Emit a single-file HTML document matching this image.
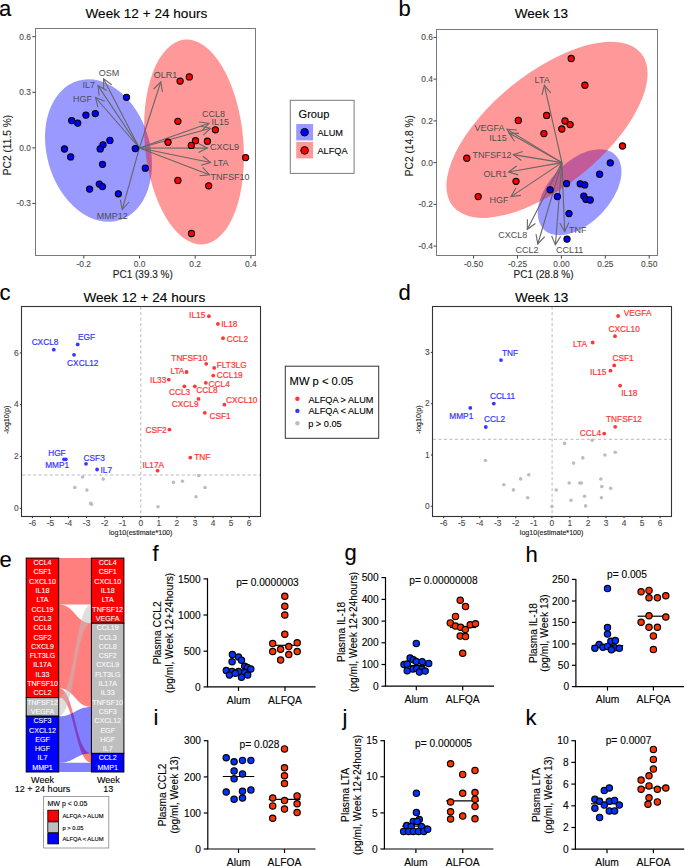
<!DOCTYPE html>
<html><head><meta charset="utf-8"><style>
html,body{margin:0;padding:0;background:#fff;}
svg{display:block;font-family:"Liberation Sans", sans-serif;}
</style></head><body>
<svg width="685" height="866" viewBox="0 0 685 866">
<rect width="685" height="866" fill="#fff"/>
<text x="-1.0" y="15.9" font-size="22" fill="#000" text-anchor="start" stroke="#000" stroke-width="0.12" >a</text>
<text x="146.4" y="18.0" font-size="13.6" fill="#000" text-anchor="middle" stroke="#000" stroke-width="0.12" >Week 12 + 24 hours</text>
<g>
<ellipse cx="98.5" cy="150.6" rx="51.5" ry="72.7" transform="rotate(-16.4 98.5 150.6)" fill="#0000ff" fill-opacity="0.4"/>
<ellipse cx="194" cy="142" rx="49.3" ry="102.8" transform="rotate(-5.2 194 142)" fill="#ff0000" fill-opacity="0.4"/>
</g>
<rect x="35.5" y="28.5" width="220" height="227" fill="none" stroke="#7a7a7a" stroke-width="1"/>
<line x1="32.3" y1="36.7" x2="35.5" y2="36.7" stroke="#444" stroke-width="1" />
<text x="31.0" y="39.7" font-size="8.4" fill="#4d4d4d" text-anchor="end" stroke="#4d4d4d" stroke-width="0.12" >0.6</text>
<line x1="32.3" y1="92.3" x2="35.5" y2="92.3" stroke="#444" stroke-width="1" />
<text x="31.0" y="95.3" font-size="8.4" fill="#4d4d4d" text-anchor="end" stroke="#4d4d4d" stroke-width="0.12" >0.3</text>
<line x1="32.3" y1="147.9" x2="35.5" y2="147.9" stroke="#444" stroke-width="1" />
<text x="31.0" y="150.9" font-size="8.4" fill="#4d4d4d" text-anchor="end" stroke="#4d4d4d" stroke-width="0.12" >0.0</text>
<line x1="32.3" y1="203.4" x2="35.5" y2="203.4" stroke="#444" stroke-width="1" />
<text x="31.0" y="206.4" font-size="8.4" fill="#4d4d4d" text-anchor="end" stroke="#4d4d4d" stroke-width="0.12" >-0.3</text>
<line x1="83.8" y1="255.5" x2="83.8" y2="258.5" stroke="#444" stroke-width="1" />
<text x="83.8" y="267.2" font-size="8.4" fill="#4d4d4d" text-anchor="middle" stroke="#4d4d4d" stroke-width="0.12" >-0.2</text>
<line x1="139.5" y1="255.5" x2="139.5" y2="258.5" stroke="#444" stroke-width="1" />
<text x="139.5" y="267.2" font-size="8.4" fill="#4d4d4d" text-anchor="middle" stroke="#4d4d4d" stroke-width="0.12" >0.0</text>
<line x1="195.2" y1="255.5" x2="195.2" y2="258.5" stroke="#444" stroke-width="1" />
<text x="195.2" y="267.2" font-size="8.4" fill="#4d4d4d" text-anchor="middle" stroke="#4d4d4d" stroke-width="0.12" >0.2</text>
<line x1="250.9" y1="255.5" x2="250.9" y2="258.5" stroke="#444" stroke-width="1" />
<text x="250.9" y="267.2" font-size="8.4" fill="#4d4d4d" text-anchor="middle" stroke="#4d4d4d" stroke-width="0.12" >0.4</text>
<text x="142.8" y="277.5" font-size="10.0" fill="#1a1a1a" text-anchor="middle" stroke="#1a1a1a" stroke-width="0.12" >PC1 (39.3 %)</text>
<text transform="translate(11.3,145.0) rotate(-90)" font-size="10.2" fill="#1a1a1a" text-anchor="middle" stroke="#1a1a1a" stroke-width="0.12" >PC2 (11.5 %)</text>
<line x1="139.4" y1="148.0" x2="103.6" y2="78.9" stroke="#666" stroke-width="1.1" />
<polyline points="111.7,84.7 103.6,78.9 103.7,88.9" fill="none" stroke="#666" stroke-width="1.1"/>
<line x1="139.4" y1="148.0" x2="98.0" y2="85.6" stroke="#666" stroke-width="1.1" />
<polyline points="106.7,90.5 98.0,85.6 99.1,95.5" fill="none" stroke="#666" stroke-width="1.1"/>
<line x1="139.4" y1="148.0" x2="95.5" y2="97.5" stroke="#666" stroke-width="1.1" />
<polyline points="104.8,101.2 95.5,97.5 97.9,107.2" fill="none" stroke="#666" stroke-width="1.1"/>
<line x1="139.4" y1="148.0" x2="160.8" y2="81.9" stroke="#666" stroke-width="1.1" />
<polyline points="162.4,91.8 160.8,81.9 153.7,89.0" fill="none" stroke="#666" stroke-width="1.1"/>
<line x1="139.4" y1="148.0" x2="122.3" y2="209.4" stroke="#666" stroke-width="1.1" />
<polyline points="120.3,199.6 122.3,209.4 129.1,202.0" fill="none" stroke="#666" stroke-width="1.1"/>
<line x1="139.4" y1="148.0" x2="208.9" y2="123.3" stroke="#666" stroke-width="1.1" />
<polyline points="202.0,130.6 208.9,123.3 199.0,122.0" fill="none" stroke="#666" stroke-width="1.1"/>
<line x1="139.4" y1="148.0" x2="210.6" y2="128.3" stroke="#666" stroke-width="1.1" />
<polyline points="203.2,135.1 210.6,128.3 200.8,126.3" fill="none" stroke="#666" stroke-width="1.1"/>
<line x1="139.4" y1="148.0" x2="207.4" y2="148.1" stroke="#666" stroke-width="1.1" />
<polyline points="198.5,152.6 207.4,148.1 198.5,143.5" fill="none" stroke="#666" stroke-width="1.1"/>
<line x1="139.4" y1="148.0" x2="210.6" y2="162.5" stroke="#666" stroke-width="1.1" />
<polyline points="201.0,165.2 210.6,162.5 202.8,156.3" fill="none" stroke="#666" stroke-width="1.1"/>
<line x1="139.4" y1="148.0" x2="209.4" y2="174.7" stroke="#666" stroke-width="1.1" />
<polyline points="199.5,175.8 209.4,174.7 202.7,167.3" fill="none" stroke="#666" stroke-width="1.1"/>
<text x="108.9" y="75.8" font-size="9" fill="#4d4d4d" text-anchor="middle" >OSM</text>
<text x="88.7" y="87.6" font-size="9" fill="#4d4d4d" text-anchor="middle" >IL7</text>
<text x="82.5" y="102.0" font-size="9" fill="#4d4d4d" text-anchor="middle" >HGF</text>
<text x="165.5" y="78.4" font-size="9" fill="#4d4d4d" text-anchor="middle" >OLR1</text>
<text x="112.3" y="219.3" font-size="9" fill="#4d4d4d" text-anchor="middle" >MMP12</text>
<text x="213.5" y="117.1" font-size="9" fill="#4d4d4d" text-anchor="middle" >CCL8</text>
<text x="220.3" y="125.0" font-size="9" fill="#4d4d4d" text-anchor="middle" >IL15</text>
<text x="224.6" y="150.1" font-size="9" fill="#4d4d4d" text-anchor="middle" >CXCL9</text>
<text x="221.0" y="166.2" font-size="9" fill="#4d4d4d" text-anchor="middle" >LTA</text>
<text x="230.1" y="179.8" font-size="9" fill="#4d4d4d" text-anchor="middle" >TNFSF10</text>
<circle cx="126.5" cy="97.3" r="3.1" fill="#0000ff" stroke="#000" stroke-width="1.1"/>
<circle cx="71.7" cy="120.6" r="3.1" fill="#0000ff" stroke="#000" stroke-width="1.1"/>
<circle cx="77.7" cy="123.1" r="3.1" fill="#0000ff" stroke="#000" stroke-width="1.1"/>
<circle cx="85.9" cy="115.1" r="3.1" fill="#0000ff" stroke="#000" stroke-width="1.1"/>
<circle cx="95.3" cy="113.6" r="3.1" fill="#0000ff" stroke="#000" stroke-width="1.1"/>
<circle cx="109.9" cy="140.4" r="3.1" fill="#0000ff" stroke="#000" stroke-width="1.1"/>
<circle cx="103.0" cy="144.8" r="3.1" fill="#0000ff" stroke="#000" stroke-width="1.1"/>
<circle cx="100.2" cy="148.9" r="3.1" fill="#0000ff" stroke="#000" stroke-width="1.1"/>
<circle cx="64.5" cy="149.0" r="3.1" fill="#0000ff" stroke="#000" stroke-width="1.1"/>
<circle cx="70.7" cy="156.9" r="3.1" fill="#0000ff" stroke="#000" stroke-width="1.1"/>
<circle cx="135.3" cy="148.6" r="3.1" fill="#0000ff" stroke="#000" stroke-width="1.1"/>
<circle cx="102.5" cy="164.3" r="3.1" fill="#0000ff" stroke="#000" stroke-width="1.1"/>
<circle cx="145.3" cy="168.2" r="3.1" fill="#0000ff" stroke="#000" stroke-width="1.1"/>
<circle cx="99.3" cy="184.1" r="3.1" fill="#0000ff" stroke="#000" stroke-width="1.1"/>
<circle cx="102.5" cy="186.6" r="3.1" fill="#0000ff" stroke="#000" stroke-width="1.1"/>
<circle cx="89.6" cy="189.1" r="3.1" fill="#0000ff" stroke="#000" stroke-width="1.1"/>
<circle cx="118.4" cy="193.8" r="3.1" fill="#0000ff" stroke="#000" stroke-width="1.1"/>
<circle cx="180.1" cy="81.1" r="3.1" fill="#ff0000" stroke="#000" stroke-width="1.1"/>
<circle cx="189.3" cy="76.9" r="3.1" fill="#ff0000" stroke="#000" stroke-width="1.1"/>
<circle cx="177.9" cy="121.3" r="3.1" fill="#ff0000" stroke="#000" stroke-width="1.1"/>
<circle cx="215.4" cy="129.8" r="3.1" fill="#ff0000" stroke="#000" stroke-width="1.1"/>
<circle cx="168.0" cy="142.2" r="3.1" fill="#ff0000" stroke="#000" stroke-width="1.1"/>
<circle cx="195.5" cy="140.7" r="3.1" fill="#ff0000" stroke="#000" stroke-width="1.1"/>
<circle cx="191.3" cy="145.4" r="3.1" fill="#ff0000" stroke="#000" stroke-width="1.1"/>
<circle cx="207.4" cy="141.2" r="3.1" fill="#ff0000" stroke="#000" stroke-width="1.1"/>
<circle cx="245.6" cy="157.6" r="3.1" fill="#ff0000" stroke="#000" stroke-width="1.1"/>
<circle cx="177.9" cy="180.4" r="3.1" fill="#ff0000" stroke="#000" stroke-width="1.1"/>
<circle cx="208.7" cy="185.8" r="3.1" fill="#ff0000" stroke="#000" stroke-width="1.1"/>
<circle cx="191.5" cy="233.5" r="3.1" fill="#ff0000" stroke="#000" stroke-width="1.1"/>
<rect x="290.3" y="100.3" width="63.8" height="73.1" fill="none" stroke="#7a7a7a" stroke-width="1"/>
<text x="298.5" y="117.8" font-size="11.1" fill="#000" text-anchor="start" stroke="#000" stroke-width="0.1" >Group</text>
<rect x="296.2" y="124" width="16.9" height="16.4" fill="#0000ff" fill-opacity="0.4"/>
<rect x="296.2" y="141.9" width="16.9" height="16.5" fill="#ff0000" fill-opacity="0.4"/>
<circle cx="304.6" cy="132.2" r="3.8" fill="#0000ff" stroke="#000" stroke-width="1"/>
<circle cx="304.6" cy="150.4" r="3.8" fill="#ff0000" stroke="#000" stroke-width="1"/>
<text x="317.4" y="135.6" font-size="9.2" fill="#000" text-anchor="start" stroke="#000" stroke-width="0.1" >ALUM</text>
<text x="317.4" y="153.7" font-size="9.2" fill="#000" text-anchor="start" stroke="#000" stroke-width="0.1" >ALFQA</text>
<text x="398.6" y="15.9" font-size="22" fill="#000" text-anchor="start" stroke="#000" stroke-width="0.12" >b</text>
<text x="541.4" y="18.0" font-size="13.6" fill="#000" text-anchor="middle" stroke="#000" stroke-width="0.12" >Week 13</text>
<ellipse cx="579.6" cy="192.2" rx="51.6" ry="30.6" transform="rotate(-46.5 579.6 192.2)" fill="#0000ff" fill-opacity="0.4"/>
<ellipse cx="547" cy="129.8" rx="121.3" ry="56.3" transform="rotate(-39.1 547 129.8)" fill="#ff0000" fill-opacity="0.4"/>
<rect x="436.5" y="29.5" width="221" height="226" fill="none" stroke="#7a7a7a" stroke-width="1"/>
<line x1="433.5" y1="37.4" x2="436.5" y2="37.4" stroke="#444" stroke-width="1" />
<text x="432.9" y="40.4" font-size="8.4" fill="#4d4d4d" text-anchor="end" stroke="#4d4d4d" stroke-width="0.12" >0.6</text>
<line x1="433.5" y1="79.1" x2="436.5" y2="79.1" stroke="#444" stroke-width="1" />
<text x="432.9" y="82.1" font-size="8.4" fill="#4d4d4d" text-anchor="end" stroke="#4d4d4d" stroke-width="0.12" >0.4</text>
<line x1="433.5" y1="120.9" x2="436.5" y2="120.9" stroke="#444" stroke-width="1" />
<text x="432.9" y="123.9" font-size="8.4" fill="#4d4d4d" text-anchor="end" stroke="#4d4d4d" stroke-width="0.12" >0.2</text>
<line x1="433.5" y1="162.6" x2="436.5" y2="162.6" stroke="#444" stroke-width="1" />
<text x="432.9" y="165.6" font-size="8.4" fill="#4d4d4d" text-anchor="end" stroke="#4d4d4d" stroke-width="0.12" >0.0</text>
<line x1="433.5" y1="204.4" x2="436.5" y2="204.4" stroke="#444" stroke-width="1" />
<text x="432.9" y="207.4" font-size="8.4" fill="#4d4d4d" text-anchor="end" stroke="#4d4d4d" stroke-width="0.12" >-0.2</text>
<line x1="433.5" y1="246.1" x2="436.5" y2="246.1" stroke="#444" stroke-width="1" />
<text x="432.9" y="249.1" font-size="8.4" fill="#4d4d4d" text-anchor="end" stroke="#4d4d4d" stroke-width="0.12" >-0.4</text>
<line x1="473.6" y1="255.5" x2="473.6" y2="258.5" stroke="#444" stroke-width="1" />
<text x="473.6" y="267.2" font-size="8.4" fill="#4d4d4d" text-anchor="middle" stroke="#4d4d4d" stroke-width="0.12" >-0.50</text>
<line x1="517.5" y1="255.5" x2="517.5" y2="258.5" stroke="#444" stroke-width="1" />
<text x="517.5" y="267.2" font-size="8.4" fill="#4d4d4d" text-anchor="middle" stroke="#4d4d4d" stroke-width="0.12" >-0.25</text>
<line x1="561.4" y1="255.5" x2="561.4" y2="258.5" stroke="#444" stroke-width="1" />
<text x="561.4" y="267.2" font-size="8.4" fill="#4d4d4d" text-anchor="middle" stroke="#4d4d4d" stroke-width="0.12" >0.00</text>
<line x1="605.3" y1="255.5" x2="605.3" y2="258.5" stroke="#444" stroke-width="1" />
<text x="605.3" y="267.2" font-size="8.4" fill="#4d4d4d" text-anchor="middle" stroke="#4d4d4d" stroke-width="0.12" >0.25</text>
<line x1="649.2" y1="255.5" x2="649.2" y2="258.5" stroke="#444" stroke-width="1" />
<text x="649.2" y="267.2" font-size="8.4" fill="#4d4d4d" text-anchor="middle" stroke="#4d4d4d" stroke-width="0.12" >0.50</text>
<text x="543.5" y="277.5" font-size="10.0" fill="#1a1a1a" text-anchor="middle" stroke="#1a1a1a" stroke-width="0.12" >PC1 (28.8 %)</text>
<text transform="translate(412.9,145.6) rotate(-90)" font-size="10.2" fill="#1a1a1a" text-anchor="middle" stroke="#1a1a1a" stroke-width="0.12" >PC2 (14.8 %)</text>
<line x1="561.9" y1="162.6" x2="544.4" y2="85.3" stroke="#666" stroke-width="1.1" />
<polyline points="550.8,93.0 544.4,85.3 541.9,95.0" fill="none" stroke="#666" stroke-width="1.1"/>
<line x1="561.9" y1="162.6" x2="507.0" y2="129.2" stroke="#666" stroke-width="1.1" />
<polyline points="517.0,130.0 507.0,129.2 512.3,137.7" fill="none" stroke="#666" stroke-width="1.1"/>
<line x1="561.9" y1="162.6" x2="509.0" y2="133.0" stroke="#666" stroke-width="1.1" />
<polyline points="519.0,133.4 509.0,133.0 514.6,141.3" fill="none" stroke="#666" stroke-width="1.1"/>
<line x1="561.9" y1="162.6" x2="513.3" y2="154.6" stroke="#666" stroke-width="1.1" />
<polyline points="522.8,151.6 513.3,154.6 521.4,160.5" fill="none" stroke="#666" stroke-width="1.1"/>
<line x1="561.9" y1="162.6" x2="508.6" y2="172.0" stroke="#666" stroke-width="1.1" />
<polyline points="516.6,166.0 508.6,172.0 518.2,174.9" fill="none" stroke="#666" stroke-width="1.1"/>
<line x1="561.9" y1="162.6" x2="511.0" y2="196.6" stroke="#666" stroke-width="1.1" />
<polyline points="515.9,187.9 511.0,196.6 520.9,195.4" fill="none" stroke="#666" stroke-width="1.1"/>
<line x1="561.9" y1="162.6" x2="527.3" y2="229.3" stroke="#666" stroke-width="1.1" />
<polyline points="527.4,219.3 527.3,229.3 535.4,223.5" fill="none" stroke="#666" stroke-width="1.1"/>
<line x1="561.9" y1="162.6" x2="537.8" y2="244.0" stroke="#666" stroke-width="1.1" />
<polyline points="536.0,234.2 537.8,244.0 544.7,236.7" fill="none" stroke="#666" stroke-width="1.1"/>
<line x1="561.9" y1="162.6" x2="555.4" y2="244.9" stroke="#666" stroke-width="1.1" />
<polyline points="551.6,235.7 555.4,244.9 560.6,236.4" fill="none" stroke="#666" stroke-width="1.1"/>
<line x1="561.9" y1="162.6" x2="564.7" y2="231.6" stroke="#666" stroke-width="1.1" />
<polyline points="559.8,222.9 564.7,231.6 568.9,222.5" fill="none" stroke="#666" stroke-width="1.1"/>
<text x="542.2" y="82.6" font-size="9" fill="#4d4d4d" text-anchor="middle" >LTA</text>
<text x="489.6" y="130.5" font-size="9" fill="#4d4d4d" text-anchor="middle" >VEGFA</text>
<text x="497.9" y="141.0" font-size="9" fill="#4d4d4d" text-anchor="middle" >IL15</text>
<text x="492.0" y="157.8" font-size="9" fill="#4d4d4d" text-anchor="middle" >TNFSF12</text>
<text x="495.3" y="176.9" font-size="9" fill="#4d4d4d" text-anchor="middle" >OLR1</text>
<text x="499.0" y="203.2" font-size="9" fill="#4d4d4d" text-anchor="middle" >HGF</text>
<text x="512.7" y="238.3" font-size="9" fill="#4d4d4d" text-anchor="middle" >CXCL8</text>
<text x="526.9" y="252.8" font-size="9" fill="#4d4d4d" text-anchor="middle" >CCL2</text>
<text x="569.7" y="252.8" font-size="9" fill="#4d4d4d" text-anchor="middle" >CCL11</text>
<text x="577.8" y="233.2" font-size="9" fill="#4d4d4d" text-anchor="middle" >TNF</text>
<circle cx="610.3" cy="162.8" r="3.1" fill="#0000ff" stroke="#000" stroke-width="1.1"/>
<circle cx="599.6" cy="174.2" r="3.1" fill="#0000ff" stroke="#000" stroke-width="1.1"/>
<circle cx="566.6" cy="183.6" r="3.1" fill="#0000ff" stroke="#000" stroke-width="1.1"/>
<circle cx="580.2" cy="183.8" r="3.1" fill="#0000ff" stroke="#000" stroke-width="1.1"/>
<circle cx="584.7" cy="184.9" r="3.1" fill="#0000ff" stroke="#000" stroke-width="1.1"/>
<circle cx="550.1" cy="189.8" r="3.1" fill="#0000ff" stroke="#000" stroke-width="1.1"/>
<circle cx="557.4" cy="196.6" r="3.1" fill="#0000ff" stroke="#000" stroke-width="1.1"/>
<circle cx="583.8" cy="196.1" r="3.1" fill="#0000ff" stroke="#000" stroke-width="1.1"/>
<circle cx="585.9" cy="199.3" r="3.1" fill="#0000ff" stroke="#000" stroke-width="1.1"/>
<circle cx="590.2" cy="200.0" r="3.1" fill="#0000ff" stroke="#000" stroke-width="1.1"/>
<circle cx="569.0" cy="213.6" r="3.1" fill="#0000ff" stroke="#000" stroke-width="1.1"/>
<circle cx="567.0" cy="239.1" r="3.1" fill="#0000ff" stroke="#000" stroke-width="1.1"/>
<circle cx="571.2" cy="58.5" r="3.1" fill="#ff0000" stroke="#000" stroke-width="1.1"/>
<circle cx="584.9" cy="85.2" r="3.1" fill="#ff0000" stroke="#000" stroke-width="1.1"/>
<circle cx="518.3" cy="120.4" r="3.1" fill="#ff0000" stroke="#000" stroke-width="1.1"/>
<circle cx="546.6" cy="115.4" r="3.1" fill="#ff0000" stroke="#000" stroke-width="1.1"/>
<circle cx="543.9" cy="133.6" r="3.1" fill="#ff0000" stroke="#000" stroke-width="1.1"/>
<circle cx="565.0" cy="121.0" r="3.1" fill="#ff0000" stroke="#000" stroke-width="1.1"/>
<circle cx="570.1" cy="124.6" r="3.1" fill="#ff0000" stroke="#000" stroke-width="1.1"/>
<circle cx="561.8" cy="129.0" r="3.1" fill="#ff0000" stroke="#000" stroke-width="1.1"/>
<circle cx="466.8" cy="158.2" r="3.1" fill="#ff0000" stroke="#000" stroke-width="1.1"/>
<circle cx="516.0" cy="181.3" r="3.1" fill="#ff0000" stroke="#000" stroke-width="1.1"/>
<circle cx="478.2" cy="196.6" r="3.1" fill="#ff0000" stroke="#000" stroke-width="1.1"/>
<circle cx="622.5" cy="146.0" r="3.1" fill="#ff0000" stroke="#000" stroke-width="1.1"/>
<text x="-0.6" y="300.0" font-size="22" fill="#000" text-anchor="start" stroke="#000" stroke-width="0.12" >c</text>
<text x="144.3" y="302.3" font-size="13.6" fill="#000" text-anchor="middle" stroke="#000" stroke-width="0.12" >Week 12 + 24 hours</text>
<line x1="22.2" y1="475.0" x2="260.4" y2="475.0" stroke="#bbbbbb" stroke-width="1" stroke-dasharray="3.1 2.4"/>
<line x1="140.8" y1="306.6" x2="140.8" y2="516.1" stroke="#bbbbbb" stroke-width="1" stroke-dasharray="3.1 2.4"/>
<rect x="21.5" y="306.5" width="239" height="210" fill="none" stroke="#333" stroke-width="1.1"/>
<line x1="19.8" y1="508.3" x2="21.5" y2="508.3" stroke="#333" stroke-width="1" />
<text x="18.6" y="510.9" font-size="8.4" fill="#4d4d4d" text-anchor="end" stroke="#4d4d4d" stroke-width="0.12" >0</text>
<line x1="19.8" y1="456.5" x2="21.5" y2="456.5" stroke="#333" stroke-width="1" />
<text x="18.6" y="459.1" font-size="8.4" fill="#4d4d4d" text-anchor="end" stroke="#4d4d4d" stroke-width="0.12" >2</text>
<line x1="19.8" y1="404.7" x2="21.5" y2="404.7" stroke="#333" stroke-width="1" />
<text x="18.6" y="407.3" font-size="8.4" fill="#4d4d4d" text-anchor="end" stroke="#4d4d4d" stroke-width="0.12" >4</text>
<line x1="19.8" y1="352.9" x2="21.5" y2="352.9" stroke="#333" stroke-width="1" />
<text x="18.6" y="355.5" font-size="8.4" fill="#4d4d4d" text-anchor="end" stroke="#4d4d4d" stroke-width="0.12" >6</text>
<line x1="32.4" y1="516.5" x2="32.4" y2="518.2" stroke="#333" stroke-width="1" />
<text x="32.4" y="526.2" font-size="8.4" fill="#4d4d4d" text-anchor="middle" stroke="#4d4d4d" stroke-width="0.12" >-6</text>
<line x1="50.5" y1="516.5" x2="50.5" y2="518.2" stroke="#333" stroke-width="1" />
<text x="50.5" y="526.2" font-size="8.4" fill="#4d4d4d" text-anchor="middle" stroke="#4d4d4d" stroke-width="0.12" >-5</text>
<line x1="68.5" y1="516.5" x2="68.5" y2="518.2" stroke="#333" stroke-width="1" />
<text x="68.5" y="526.2" font-size="8.4" fill="#4d4d4d" text-anchor="middle" stroke="#4d4d4d" stroke-width="0.12" >-4</text>
<line x1="86.6" y1="516.5" x2="86.6" y2="518.2" stroke="#333" stroke-width="1" />
<text x="86.6" y="526.2" font-size="8.4" fill="#4d4d4d" text-anchor="middle" stroke="#4d4d4d" stroke-width="0.12" >-3</text>
<line x1="104.7" y1="516.5" x2="104.7" y2="518.2" stroke="#333" stroke-width="1" />
<text x="104.7" y="526.2" font-size="8.4" fill="#4d4d4d" text-anchor="middle" stroke="#4d4d4d" stroke-width="0.12" >-2</text>
<line x1="122.7" y1="516.5" x2="122.7" y2="518.2" stroke="#333" stroke-width="1" />
<text x="122.7" y="526.2" font-size="8.4" fill="#4d4d4d" text-anchor="middle" stroke="#4d4d4d" stroke-width="0.12" >-1</text>
<line x1="140.8" y1="516.5" x2="140.8" y2="518.2" stroke="#333" stroke-width="1" />
<text x="140.8" y="526.2" font-size="8.4" fill="#4d4d4d" text-anchor="middle" stroke="#4d4d4d" stroke-width="0.12" >0</text>
<line x1="158.9" y1="516.5" x2="158.9" y2="518.2" stroke="#333" stroke-width="1" />
<text x="158.9" y="526.2" font-size="8.4" fill="#4d4d4d" text-anchor="middle" stroke="#4d4d4d" stroke-width="0.12" >1</text>
<line x1="176.9" y1="516.5" x2="176.9" y2="518.2" stroke="#333" stroke-width="1" />
<text x="176.9" y="526.2" font-size="8.4" fill="#4d4d4d" text-anchor="middle" stroke="#4d4d4d" stroke-width="0.12" >2</text>
<line x1="195.0" y1="516.5" x2="195.0" y2="518.2" stroke="#333" stroke-width="1" />
<text x="195.0" y="526.2" font-size="8.4" fill="#4d4d4d" text-anchor="middle" stroke="#4d4d4d" stroke-width="0.12" >3</text>
<line x1="213.1" y1="516.5" x2="213.1" y2="518.2" stroke="#333" stroke-width="1" />
<text x="213.1" y="526.2" font-size="8.4" fill="#4d4d4d" text-anchor="middle" stroke="#4d4d4d" stroke-width="0.12" >4</text>
<line x1="231.2" y1="516.5" x2="231.2" y2="518.2" stroke="#333" stroke-width="1" />
<text x="231.2" y="526.2" font-size="8.4" fill="#4d4d4d" text-anchor="middle" stroke="#4d4d4d" stroke-width="0.12" >5</text>
<line x1="249.2" y1="516.5" x2="249.2" y2="518.2" stroke="#333" stroke-width="1" />
<text x="249.2" y="526.2" font-size="8.4" fill="#4d4d4d" text-anchor="middle" stroke="#4d4d4d" stroke-width="0.12" >6</text>
<text x="140.7" y="535.3" font-size="7.1" fill="#1a1a1a" text-anchor="middle" stroke="#1a1a1a" stroke-width="0.12" >log10(estimate*100)</text>
<text transform="translate(9.0,419.8) rotate(-90)" font-size="7.1" fill="#1a1a1a" text-anchor="middle" stroke="#1a1a1a" stroke-width="0.12" >-log10(p)</text>
<circle cx="82.6" cy="477.0" r="1.8" fill="#bdbdbd" stroke="none" stroke-width="1"/>
<circle cx="103.2" cy="479.1" r="1.8" fill="#bdbdbd" stroke="none" stroke-width="1"/>
<circle cx="74.8" cy="487.5" r="1.8" fill="#bdbdbd" stroke="none" stroke-width="1"/>
<circle cx="86.9" cy="490.1" r="1.8" fill="#bdbdbd" stroke="none" stroke-width="1"/>
<circle cx="90.7" cy="503.4" r="1.8" fill="#bdbdbd" stroke="none" stroke-width="1"/>
<circle cx="91.4" cy="504.2" r="1.8" fill="#bdbdbd" stroke="none" stroke-width="1"/>
<circle cx="198.7" cy="475.6" r="1.8" fill="#bdbdbd" stroke="none" stroke-width="1"/>
<circle cx="173.5" cy="482.4" r="1.8" fill="#bdbdbd" stroke="none" stroke-width="1"/>
<circle cx="182.5" cy="481.3" r="1.8" fill="#bdbdbd" stroke="none" stroke-width="1"/>
<circle cx="205.0" cy="487.5" r="1.8" fill="#bdbdbd" stroke="none" stroke-width="1"/>
<circle cx="196.0" cy="496.7" r="1.8" fill="#bdbdbd" stroke="none" stroke-width="1"/>
<circle cx="158.0" cy="506.7" r="1.8" fill="#bdbdbd" stroke="none" stroke-width="1"/>
<circle cx="53.8" cy="349.7" r="1.9" fill="#3636ff" stroke="none" stroke-width="1"/>
<text x="45.0" y="344.9" font-size="8.3" fill="#3636ff" text-anchor="middle" stroke="#3636ff" stroke-width="0.2" >CXCL8</text>
<circle cx="77.7" cy="344.4" r="1.9" fill="#3636ff" stroke="none" stroke-width="1"/>
<text x="86.5" y="340.2" font-size="8.3" fill="#3636ff" text-anchor="middle" stroke="#3636ff" stroke-width="0.2" >EGF</text>
<circle cx="74.0" cy="354.8" r="1.9" fill="#3636ff" stroke="none" stroke-width="1"/>
<text x="82.8" y="365.8" font-size="8.3" fill="#3636ff" text-anchor="middle" stroke="#3636ff" stroke-width="0.2" >CXCL12</text>
<circle cx="64.0" cy="459.3" r="1.9" fill="#3636ff" stroke="none" stroke-width="1"/>
<text x="56.9" y="456.1" font-size="8.3" fill="#3636ff" text-anchor="middle" stroke="#3636ff" stroke-width="0.2" >HGF</text>
<circle cx="65.8" cy="459.3" r="1.9" fill="#3636ff" stroke="none" stroke-width="1"/>
<text x="57.2" y="468.4" font-size="8.3" fill="#3636ff" text-anchor="middle" stroke="#3636ff" stroke-width="0.2" >MMP1</text>
<circle cx="86.0" cy="463.8" r="1.9" fill="#3636ff" stroke="none" stroke-width="1"/>
<text x="94.2" y="460.6" font-size="8.3" fill="#3636ff" text-anchor="middle" stroke="#3636ff" stroke-width="0.2" >CSF3</text>
<circle cx="97.1" cy="469.5" r="1.9" fill="#3636ff" stroke="none" stroke-width="1"/>
<text x="106.3" y="472.9" font-size="8.3" fill="#3636ff" text-anchor="middle" stroke="#3636ff" stroke-width="0.2" >IL7</text>
<circle cx="208.9" cy="316.2" r="1.9" fill="#ff3636" stroke="none" stroke-width="1"/>
<text x="197.2" y="318.2" font-size="8.3" fill="#ff3636" text-anchor="middle" stroke="#ff3636" stroke-width="0.2" >IL15</text>
<circle cx="217.9" cy="323.9" r="1.9" fill="#ff3636" stroke="none" stroke-width="1"/>
<text x="229.3" y="326.9" font-size="8.3" fill="#ff3636" text-anchor="middle" stroke="#ff3636" stroke-width="0.2" >IL18</text>
<circle cx="223.0" cy="338.2" r="1.9" fill="#ff3636" stroke="none" stroke-width="1"/>
<text x="237.4" y="341.9" font-size="8.3" fill="#ff3636" text-anchor="middle" stroke="#ff3636" stroke-width="0.2" >CCL2</text>
<circle cx="206.2" cy="363.8" r="1.9" fill="#ff3636" stroke="none" stroke-width="1"/>
<text x="189.3" y="360.7" font-size="8.3" fill="#ff3636" text-anchor="middle" stroke="#ff3636" stroke-width="0.2" >TNFSF10</text>
<circle cx="214.2" cy="367.9" r="1.9" fill="#ff3636" stroke="none" stroke-width="1"/>
<text x="231.7" y="367.8" font-size="8.3" fill="#ff3636" text-anchor="middle" stroke="#ff3636" stroke-width="0.2" >FLT3LG</text>
<circle cx="186.6" cy="372.0" r="1.9" fill="#ff3636" stroke="none" stroke-width="1"/>
<text x="177.4" y="374.4" font-size="8.3" fill="#ff3636" text-anchor="middle" stroke="#ff3636" stroke-width="0.2" >LTA</text>
<circle cx="213.2" cy="375.6" r="1.9" fill="#ff3636" stroke="none" stroke-width="1"/>
<text x="229.7" y="378.0" font-size="8.3" fill="#ff3636" text-anchor="middle" stroke="#ff3636" stroke-width="0.2" >CCL19</text>
<circle cx="168.8" cy="379.7" r="1.9" fill="#ff3636" stroke="none" stroke-width="1"/>
<text x="158.2" y="383.1" font-size="8.3" fill="#ff3636" text-anchor="middle" stroke="#ff3636" stroke-width="0.2" >IL33</text>
<circle cx="205.8" cy="382.8" r="1.9" fill="#ff3636" stroke="none" stroke-width="1"/>
<text x="219.2" y="386.6" font-size="8.3" fill="#ff3636" text-anchor="middle" stroke="#ff3636" stroke-width="0.2" >CCL4</text>
<circle cx="184.4" cy="386.3" r="1.9" fill="#ff3636" stroke="none" stroke-width="1"/>
<text x="179.6" y="394.6" font-size="8.3" fill="#ff3636" text-anchor="middle" stroke="#ff3636" stroke-width="0.2" >CCL3</text>
<circle cx="194.8" cy="386.3" r="1.9" fill="#ff3636" stroke="none" stroke-width="1"/>
<text x="206.9" y="393.4" font-size="8.3" fill="#ff3636" text-anchor="middle" stroke="#ff3636" stroke-width="0.2" >CCL8</text>
<circle cx="198.5" cy="398.9" r="1.9" fill="#ff3636" stroke="none" stroke-width="1"/>
<text x="185.2" y="407.3" font-size="8.3" fill="#ff3636" text-anchor="middle" stroke="#ff3636" stroke-width="0.2" >CXCL9</text>
<circle cx="224.4" cy="404.7" r="1.9" fill="#ff3636" stroke="none" stroke-width="1"/>
<text x="241.8" y="402.6" font-size="8.3" fill="#ff3636" text-anchor="middle" stroke="#ff3636" stroke-width="0.2" >CXCL10</text>
<circle cx="204.8" cy="412.8" r="1.9" fill="#ff3636" stroke="none" stroke-width="1"/>
<text x="220.1" y="418.9" font-size="8.3" fill="#ff3636" text-anchor="middle" stroke="#ff3636" stroke-width="0.2" >CSF1</text>
<circle cx="169.4" cy="429.6" r="1.9" fill="#ff3636" stroke="none" stroke-width="1"/>
<text x="156.1" y="433.0" font-size="8.3" fill="#ff3636" text-anchor="middle" stroke="#ff3636" stroke-width="0.2" >CSF2</text>
<circle cx="190.3" cy="457.6" r="1.9" fill="#ff3636" stroke="none" stroke-width="1"/>
<text x="202.2" y="460.2" font-size="8.3" fill="#ff3636" text-anchor="middle" stroke="#ff3636" stroke-width="0.2" >TNF</text>
<circle cx="157.6" cy="470.7" r="1.9" fill="#ff3636" stroke="none" stroke-width="1"/>
<text x="153.3" y="468.4" font-size="8.3" fill="#ff3636" text-anchor="middle" stroke="#ff3636" stroke-width="0.2" >IL17A</text>
<rect x="285.3" y="366.2" width="93.4" height="72.1" fill="none" stroke="#333" stroke-width="1"/>
<text x="289.6" y="385.4" font-size="11.2" fill="#000" text-anchor="start" stroke="#000" stroke-width="0.12" >MW p &lt; 0.05</text>
<circle cx="297.4" cy="398.7" r="2.2" fill="#ff3636" stroke="none" stroke-width="1"/>
<circle cx="297.4" cy="410.9" r="2.2" fill="#3636ff" stroke="none" stroke-width="1"/>
<circle cx="297.4" cy="423.2" r="2.2" fill="#bdbdbd" stroke="none" stroke-width="1"/>
<text x="308.4" y="402.6" font-size="9.2" fill="#000" text-anchor="start" stroke="#000" stroke-width="0.12" >ALFQA &gt; ALUM</text>
<text x="308.4" y="414.2" font-size="9.2" fill="#000" text-anchor="start" stroke="#000" stroke-width="0.12" >ALFQA &lt; ALUM</text>
<text x="308.2" y="426.5" font-size="9.2" fill="#000" text-anchor="start" stroke="#000" stroke-width="0.12" >p &gt; 0.05</text>
<text x="398.6" y="300.4" font-size="22" fill="#000" text-anchor="start" stroke="#000" stroke-width="0.12" >d</text>
<text x="541.6" y="302.3" font-size="13.6" fill="#000" text-anchor="middle" stroke="#000" stroke-width="0.12" >Week 13</text>
<line x1="432.9" y1="439.3" x2="671.4" y2="439.3" stroke="#bbbbbb" stroke-width="1" stroke-dasharray="3.1 2.4"/>
<line x1="552.1" y1="306.6" x2="552.1" y2="516.1" stroke="#bbbbbb" stroke-width="1" stroke-dasharray="3.1 2.4"/>
<rect x="432.5" y="306.5" width="239" height="210" fill="none" stroke="#333" stroke-width="1.1"/>
<line x1="430.8" y1="506.3" x2="432.5" y2="506.3" stroke="#333" stroke-width="1" />
<text x="429.6" y="508.9" font-size="8.4" fill="#4d4d4d" text-anchor="end" stroke="#4d4d4d" stroke-width="0.12" >0</text>
<line x1="430.8" y1="455.0" x2="432.5" y2="455.0" stroke="#333" stroke-width="1" />
<text x="429.6" y="457.6" font-size="8.4" fill="#4d4d4d" text-anchor="end" stroke="#4d4d4d" stroke-width="0.12" >1</text>
<line x1="430.8" y1="403.7" x2="432.5" y2="403.7" stroke="#333" stroke-width="1" />
<text x="429.6" y="406.3" font-size="8.4" fill="#4d4d4d" text-anchor="end" stroke="#4d4d4d" stroke-width="0.12" >2</text>
<line x1="430.8" y1="352.4" x2="432.5" y2="352.4" stroke="#333" stroke-width="1" />
<text x="429.6" y="355.0" font-size="8.4" fill="#4d4d4d" text-anchor="end" stroke="#4d4d4d" stroke-width="0.12" >3</text>
<line x1="443.7" y1="516.5" x2="443.7" y2="518.2" stroke="#333" stroke-width="1" />
<text x="443.7" y="526.2" font-size="8.4" fill="#4d4d4d" text-anchor="middle" stroke="#4d4d4d" stroke-width="0.12" >-6</text>
<line x1="461.8" y1="516.5" x2="461.8" y2="518.2" stroke="#333" stroke-width="1" />
<text x="461.8" y="526.2" font-size="8.4" fill="#4d4d4d" text-anchor="middle" stroke="#4d4d4d" stroke-width="0.12" >-5</text>
<line x1="479.8" y1="516.5" x2="479.8" y2="518.2" stroke="#333" stroke-width="1" />
<text x="479.8" y="526.2" font-size="8.4" fill="#4d4d4d" text-anchor="middle" stroke="#4d4d4d" stroke-width="0.12" >-4</text>
<line x1="497.8" y1="516.5" x2="497.8" y2="518.2" stroke="#333" stroke-width="1" />
<text x="497.8" y="526.2" font-size="8.4" fill="#4d4d4d" text-anchor="middle" stroke="#4d4d4d" stroke-width="0.12" >-3</text>
<line x1="515.8" y1="516.5" x2="515.8" y2="518.2" stroke="#333" stroke-width="1" />
<text x="515.8" y="526.2" font-size="8.4" fill="#4d4d4d" text-anchor="middle" stroke="#4d4d4d" stroke-width="0.12" >-2</text>
<line x1="533.9" y1="516.5" x2="533.9" y2="518.2" stroke="#333" stroke-width="1" />
<text x="533.9" y="526.2" font-size="8.4" fill="#4d4d4d" text-anchor="middle" stroke="#4d4d4d" stroke-width="0.12" >-1</text>
<line x1="551.9" y1="516.5" x2="551.9" y2="518.2" stroke="#333" stroke-width="1" />
<text x="551.9" y="526.2" font-size="8.4" fill="#4d4d4d" text-anchor="middle" stroke="#4d4d4d" stroke-width="0.12" >0</text>
<line x1="569.9" y1="516.5" x2="569.9" y2="518.2" stroke="#333" stroke-width="1" />
<text x="569.9" y="526.2" font-size="8.4" fill="#4d4d4d" text-anchor="middle" stroke="#4d4d4d" stroke-width="0.12" >1</text>
<line x1="588.0" y1="516.5" x2="588.0" y2="518.2" stroke="#333" stroke-width="1" />
<text x="588.0" y="526.2" font-size="8.4" fill="#4d4d4d" text-anchor="middle" stroke="#4d4d4d" stroke-width="0.12" >2</text>
<line x1="606.0" y1="516.5" x2="606.0" y2="518.2" stroke="#333" stroke-width="1" />
<text x="606.0" y="526.2" font-size="8.4" fill="#4d4d4d" text-anchor="middle" stroke="#4d4d4d" stroke-width="0.12" >3</text>
<line x1="624.0" y1="516.5" x2="624.0" y2="518.2" stroke="#333" stroke-width="1" />
<text x="624.0" y="526.2" font-size="8.4" fill="#4d4d4d" text-anchor="middle" stroke="#4d4d4d" stroke-width="0.12" >4</text>
<line x1="642.0" y1="516.5" x2="642.0" y2="518.2" stroke="#333" stroke-width="1" />
<text x="642.0" y="526.2" font-size="8.4" fill="#4d4d4d" text-anchor="middle" stroke="#4d4d4d" stroke-width="0.12" >5</text>
<line x1="660.1" y1="516.5" x2="660.1" y2="518.2" stroke="#333" stroke-width="1" />
<text x="660.1" y="526.2" font-size="8.4" fill="#4d4d4d" text-anchor="middle" stroke="#4d4d4d" stroke-width="0.12" >6</text>
<text x="551.6" y="535.3" font-size="7.1" fill="#1a1a1a" text-anchor="middle" stroke="#1a1a1a" stroke-width="0.12" >log10(estimate*100)</text>
<text transform="translate(421.3,419.6) rotate(-90)" font-size="7.1" fill="#1a1a1a" text-anchor="middle" stroke="#1a1a1a" stroke-width="0.12" >-log10(p)</text>
<circle cx="485.4" cy="460.5" r="1.8" fill="#bdbdbd" stroke="none" stroke-width="1"/>
<circle cx="528.8" cy="474.8" r="1.8" fill="#bdbdbd" stroke="none" stroke-width="1"/>
<circle cx="520.6" cy="478.9" r="1.8" fill="#bdbdbd" stroke="none" stroke-width="1"/>
<circle cx="503.8" cy="484.8" r="1.8" fill="#bdbdbd" stroke="none" stroke-width="1"/>
<circle cx="513.4" cy="489.9" r="1.8" fill="#bdbdbd" stroke="none" stroke-width="1"/>
<circle cx="527.7" cy="497.7" r="1.8" fill="#bdbdbd" stroke="none" stroke-width="1"/>
<circle cx="592.2" cy="440.2" r="1.8" fill="#bdbdbd" stroke="none" stroke-width="1"/>
<circle cx="564.6" cy="443.4" r="1.8" fill="#bdbdbd" stroke="none" stroke-width="1"/>
<circle cx="615.3" cy="452.3" r="1.8" fill="#bdbdbd" stroke="none" stroke-width="1"/>
<circle cx="604.9" cy="455.0" r="1.8" fill="#bdbdbd" stroke="none" stroke-width="1"/>
<circle cx="582.8" cy="457.9" r="1.8" fill="#bdbdbd" stroke="none" stroke-width="1"/>
<circle cx="573.5" cy="463.1" r="1.8" fill="#bdbdbd" stroke="none" stroke-width="1"/>
<circle cx="600.8" cy="479.0" r="1.8" fill="#bdbdbd" stroke="none" stroke-width="1"/>
<circle cx="569.2" cy="483.0" r="1.8" fill="#bdbdbd" stroke="none" stroke-width="1"/>
<circle cx="579.7" cy="483.0" r="1.8" fill="#bdbdbd" stroke="none" stroke-width="1"/>
<circle cx="581.4" cy="483.0" r="1.8" fill="#bdbdbd" stroke="none" stroke-width="1"/>
<circle cx="601.8" cy="486.6" r="1.8" fill="#bdbdbd" stroke="none" stroke-width="1"/>
<circle cx="610.7" cy="488.2" r="1.8" fill="#bdbdbd" stroke="none" stroke-width="1"/>
<circle cx="556.2" cy="490.0" r="1.8" fill="#bdbdbd" stroke="none" stroke-width="1"/>
<circle cx="584.5" cy="496.2" r="1.8" fill="#bdbdbd" stroke="none" stroke-width="1"/>
<circle cx="601.4" cy="497.7" r="1.8" fill="#bdbdbd" stroke="none" stroke-width="1"/>
<circle cx="571.0" cy="500.3" r="1.8" fill="#bdbdbd" stroke="none" stroke-width="1"/>
<circle cx="585.6" cy="505.9" r="1.8" fill="#bdbdbd" stroke="none" stroke-width="1"/>
<circle cx="552.0" cy="506.5" r="1.8" fill="#bdbdbd" stroke="none" stroke-width="1"/>
<circle cx="501.0" cy="360.1" r="1.9" fill="#3636ff" stroke="none" stroke-width="1"/>
<text x="510.1" y="355.6" font-size="8.3" fill="#3636ff" text-anchor="middle" stroke="#3636ff" stroke-width="0.2" >TNF</text>
<circle cx="493.8" cy="403.6" r="1.9" fill="#3636ff" stroke="none" stroke-width="1"/>
<text x="502.5" y="399.1" font-size="8.3" fill="#3636ff" text-anchor="middle" stroke="#3636ff" stroke-width="0.2" >CCL11</text>
<circle cx="470.3" cy="407.9" r="1.9" fill="#3636ff" stroke="none" stroke-width="1"/>
<text x="461.3" y="418.9" font-size="8.3" fill="#3636ff" text-anchor="middle" stroke="#3636ff" stroke-width="0.2" >MMP1</text>
<circle cx="485.8" cy="427.0" r="1.9" fill="#3636ff" stroke="none" stroke-width="1"/>
<text x="494.6" y="422.4" font-size="8.3" fill="#3636ff" text-anchor="middle" stroke="#3636ff" stroke-width="0.2" >CCL2</text>
<circle cx="618.1" cy="316.0" r="1.9" fill="#ff3636" stroke="none" stroke-width="1"/>
<text x="637.6" y="315.7" font-size="8.3" fill="#ff3636" text-anchor="middle" stroke="#ff3636" stroke-width="0.2" >VEGFA</text>
<circle cx="615.0" cy="336.2" r="1.9" fill="#ff3636" stroke="none" stroke-width="1"/>
<text x="624.1" y="331.6" font-size="8.3" fill="#ff3636" text-anchor="middle" stroke="#ff3636" stroke-width="0.2" >CXCL10</text>
<circle cx="592.7" cy="342.5" r="1.9" fill="#ff3636" stroke="none" stroke-width="1"/>
<text x="580.0" y="346.8" font-size="8.3" fill="#ff3636" text-anchor="middle" stroke="#ff3636" stroke-width="0.2" >LTA</text>
<circle cx="614.2" cy="365.4" r="1.9" fill="#ff3636" stroke="none" stroke-width="1"/>
<text x="623.1" y="360.7" font-size="8.3" fill="#ff3636" text-anchor="middle" stroke="#ff3636" stroke-width="0.2" >CSF1</text>
<circle cx="610.5" cy="370.7" r="1.9" fill="#ff3636" stroke="none" stroke-width="1"/>
<text x="598.2" y="375.0" font-size="8.3" fill="#ff3636" text-anchor="middle" stroke="#ff3636" stroke-width="0.2" >IL15</text>
<circle cx="620.1" cy="385.7" r="1.9" fill="#ff3636" stroke="none" stroke-width="1"/>
<text x="629.3" y="396.4" font-size="8.3" fill="#ff3636" text-anchor="middle" stroke="#ff3636" stroke-width="0.2" >IL18</text>
<circle cx="615.2" cy="426.8" r="1.9" fill="#ff3636" stroke="none" stroke-width="1"/>
<text x="624.0" y="422.4" font-size="8.3" fill="#ff3636" text-anchor="middle" stroke="#ff3636" stroke-width="0.2" >TNFSF12</text>
<circle cx="604.2" cy="433.6" r="1.9" fill="#ff3636" stroke="none" stroke-width="1"/>
<text x="590.4" y="436.1" font-size="8.3" fill="#ff3636" text-anchor="middle" stroke="#ff3636" stroke-width="0.2" >CCL4</text>
<text x="-0.6" y="566.6" font-size="22" fill="#000" text-anchor="start" stroke="#000" stroke-width="0.12" >e</text>
<path d="M58.7,558.10 C75.05,558.10 75.05,558.10 91.4,558.10 L91.4,604.60 C75.05,604.60 75.05,604.60 58.7,604.60 Z" fill="#ff0000" fill-opacity="0.5"/>
<path d="M58.7,604.60 C75.05,604.60 75.05,623.20 91.4,623.20 L91.4,706.90 C75.05,706.90 75.05,688.30 58.7,688.30 Z" fill="#ff0000" fill-opacity="0.5"/>
<path d="M58.7,688.30 C75.05,688.30 75.05,753.40 91.4,753.40 L91.4,762.70 C75.05,762.70 75.05,697.60 58.7,697.60 Z" fill="#ff0000" fill-opacity="0.5"/>
<path d="M58.7,697.60 C75.05,697.60 75.05,604.60 91.4,604.60 L91.4,623.20 C75.05,623.20 75.05,716.20 58.7,716.20 Z" fill="#bebebe" fill-opacity="0.5"/>
<path d="M58.7,716.20 C75.05,716.20 75.05,706.90 91.4,706.90 L91.4,753.40 C75.05,753.40 75.05,762.70 58.7,762.70 Z" fill="#0000ff" fill-opacity="0.5"/>
<path d="M58.7,762.70 C75.05,762.70 75.05,762.70 91.4,762.70 L91.4,772.00 C75.05,772.00 75.05,772.00 58.7,772.00 Z" fill="#0000ff" fill-opacity="0.5"/>
<rect x="26.2" y="558.10" width="32.5" height="139.50" fill="#ff0000" stroke="#000" stroke-width="1"/>
<rect x="26.2" y="697.60" width="32.5" height="18.60" fill="#bebebe" stroke="#000" stroke-width="1"/>
<rect x="26.2" y="716.20" width="32.5" height="55.80" fill="#0000ff" stroke="#000" stroke-width="1"/>
<text x="42.5" y="565.15" font-size="7.1" fill="#fff" stroke="#fff" stroke-width="0.1" text-anchor="middle" opacity="1">CCL4</text>
<text x="42.5" y="574.45" font-size="7.1" fill="#fff" stroke="#fff" stroke-width="0.1" text-anchor="middle" opacity="1">CSF1</text>
<text x="42.5" y="583.75" font-size="7.1" fill="#fff" stroke="#fff" stroke-width="0.1" text-anchor="middle" opacity="1">CXCL10</text>
<text x="42.5" y="593.05" font-size="7.1" fill="#fff" stroke="#fff" stroke-width="0.1" text-anchor="middle" opacity="1">IL18</text>
<text x="42.5" y="602.35" font-size="7.1" fill="#fff" stroke="#fff" stroke-width="0.1" text-anchor="middle" opacity="1">LTA</text>
<text x="42.5" y="611.65" font-size="7.1" fill="#fff" stroke="#fff" stroke-width="0.1" text-anchor="middle" opacity="1">CCL19</text>
<text x="42.5" y="620.95" font-size="7.1" fill="#fff" stroke="#fff" stroke-width="0.1" text-anchor="middle" opacity="1">CCL3</text>
<text x="42.5" y="630.25" font-size="7.1" fill="#fff" stroke="#fff" stroke-width="0.1" text-anchor="middle" opacity="1">CCL8</text>
<text x="42.5" y="639.55" font-size="7.1" fill="#fff" stroke="#fff" stroke-width="0.1" text-anchor="middle" opacity="1">CSF2</text>
<text x="42.5" y="648.85" font-size="7.1" fill="#fff" stroke="#fff" stroke-width="0.1" text-anchor="middle" opacity="1">CXCL9</text>
<text x="42.5" y="658.15" font-size="7.1" fill="#fff" stroke="#fff" stroke-width="0.1" text-anchor="middle" opacity="1">FLT3LG</text>
<text x="42.5" y="667.45" font-size="7.1" fill="#fff" stroke="#fff" stroke-width="0.1" text-anchor="middle" opacity="1">IL17A</text>
<text x="42.5" y="676.75" font-size="7.1" fill="#fff" stroke="#fff" stroke-width="0.1" text-anchor="middle" opacity="1">IL33</text>
<text x="42.5" y="686.05" font-size="7.1" fill="#fff" stroke="#fff" stroke-width="0.1" text-anchor="middle" opacity="1">TNFSF10</text>
<text x="42.5" y="695.35" font-size="7.1" fill="#fff" stroke="#fff" stroke-width="0.1" text-anchor="middle" opacity="1">CCL2</text>
<text x="42.5" y="704.65" font-size="7.1" fill="#fff" stroke="#fff" stroke-width="0.1" text-anchor="middle" opacity="0.92">TNFSF12</text>
<text x="42.5" y="713.95" font-size="7.1" fill="#fff" stroke="#fff" stroke-width="0.1" text-anchor="middle" opacity="0.92">VEGFA</text>
<text x="42.5" y="723.25" font-size="7.1" fill="#fff" stroke="#fff" stroke-width="0.1" text-anchor="middle" opacity="1">CSF3</text>
<text x="42.5" y="732.55" font-size="7.1" fill="#fff" stroke="#fff" stroke-width="0.1" text-anchor="middle" opacity="1">CXCL12</text>
<text x="42.5" y="741.85" font-size="7.1" fill="#fff" stroke="#fff" stroke-width="0.1" text-anchor="middle" opacity="1">EGF</text>
<text x="42.5" y="751.15" font-size="7.1" fill="#fff" stroke="#fff" stroke-width="0.1" text-anchor="middle" opacity="1">HGF</text>
<text x="42.5" y="760.45" font-size="7.1" fill="#fff" stroke="#fff" stroke-width="0.1" text-anchor="middle" opacity="1">IL7</text>
<text x="42.5" y="769.75" font-size="7.1" fill="#fff" stroke="#fff" stroke-width="0.1" text-anchor="middle" opacity="1">MMP1</text>
<rect x="91.4" y="558.10" width="32.5" height="65.10" fill="#ff0000" stroke="#000" stroke-width="1"/>
<rect x="91.4" y="623.20" width="32.5" height="130.20" fill="#bebebe" stroke="#000" stroke-width="1"/>
<rect x="91.4" y="753.40" width="32.5" height="18.60" fill="#0000ff" stroke="#000" stroke-width="1"/>
<text x="107.7" y="565.15" font-size="7.1" fill="#fff" stroke="#fff" stroke-width="0.1" text-anchor="middle" opacity="1">CCL4</text>
<text x="107.7" y="574.45" font-size="7.1" fill="#fff" stroke="#fff" stroke-width="0.1" text-anchor="middle" opacity="1">CSF1</text>
<text x="107.7" y="583.75" font-size="7.1" fill="#fff" stroke="#fff" stroke-width="0.1" text-anchor="middle" opacity="1">CXCL10</text>
<text x="107.7" y="593.05" font-size="7.1" fill="#fff" stroke="#fff" stroke-width="0.1" text-anchor="middle" opacity="1">IL18</text>
<text x="107.7" y="602.35" font-size="7.1" fill="#fff" stroke="#fff" stroke-width="0.1" text-anchor="middle" opacity="1">LTA</text>
<text x="107.7" y="611.65" font-size="7.1" fill="#fff" stroke="#fff" stroke-width="0.1" text-anchor="middle" opacity="1">TNFSF12</text>
<text x="107.7" y="620.95" font-size="7.1" fill="#fff" stroke="#fff" stroke-width="0.1" text-anchor="middle" opacity="1">VEGFA</text>
<text x="107.7" y="630.25" font-size="7.1" fill="#fff" stroke="#fff" stroke-width="0.1" text-anchor="middle" opacity="0.92">CCL19</text>
<text x="107.7" y="639.55" font-size="7.1" fill="#fff" stroke="#fff" stroke-width="0.1" text-anchor="middle" opacity="0.92">CCL3</text>
<text x="107.7" y="648.85" font-size="7.1" fill="#fff" stroke="#fff" stroke-width="0.1" text-anchor="middle" opacity="0.92">CCL8</text>
<text x="107.7" y="658.15" font-size="7.1" fill="#fff" stroke="#fff" stroke-width="0.1" text-anchor="middle" opacity="0.92">CSF2</text>
<text x="107.7" y="667.45" font-size="7.1" fill="#fff" stroke="#fff" stroke-width="0.1" text-anchor="middle" opacity="0.92">CXCL9</text>
<text x="107.7" y="676.75" font-size="7.1" fill="#fff" stroke="#fff" stroke-width="0.1" text-anchor="middle" opacity="0.92">FLT3LG</text>
<text x="107.7" y="686.05" font-size="7.1" fill="#fff" stroke="#fff" stroke-width="0.1" text-anchor="middle" opacity="0.92">IL17A</text>
<text x="107.7" y="695.35" font-size="7.1" fill="#fff" stroke="#fff" stroke-width="0.1" text-anchor="middle" opacity="0.92">IL33</text>
<text x="107.7" y="704.65" font-size="7.1" fill="#fff" stroke="#fff" stroke-width="0.1" text-anchor="middle" opacity="0.92">TNFSF10</text>
<text x="107.7" y="713.95" font-size="7.1" fill="#fff" stroke="#fff" stroke-width="0.1" text-anchor="middle" opacity="0.92">CSF3</text>
<text x="107.7" y="723.25" font-size="7.1" fill="#fff" stroke="#fff" stroke-width="0.1" text-anchor="middle" opacity="0.92">CXCL12</text>
<text x="107.7" y="732.55" font-size="7.1" fill="#fff" stroke="#fff" stroke-width="0.1" text-anchor="middle" opacity="0.92">EGF</text>
<text x="107.7" y="741.85" font-size="7.1" fill="#fff" stroke="#fff" stroke-width="0.1" text-anchor="middle" opacity="0.92">HGF</text>
<text x="107.7" y="751.15" font-size="7.1" fill="#fff" stroke="#fff" stroke-width="0.1" text-anchor="middle" opacity="0.92">IL7</text>
<text x="107.7" y="760.45" font-size="7.1" fill="#fff" stroke="#fff" stroke-width="0.1" text-anchor="middle" opacity="1">CCL2</text>
<text x="107.7" y="769.75" font-size="7.1" fill="#fff" stroke="#fff" stroke-width="0.1" text-anchor="middle" opacity="1">MMP1</text>
<text x="42.5" y="782.6" font-size="9.0" fill="#000" text-anchor="middle" stroke="#000" stroke-width="0.12" >Week</text>
<text x="42.5" y="791.7" font-size="9.0" fill="#000" text-anchor="middle" stroke="#000" stroke-width="0.12" >12 + 24 hours</text>
<text x="108.3" y="782.6" font-size="9.0" fill="#000" text-anchor="middle" stroke="#000" stroke-width="0.12" >Week</text>
<text x="108.3" y="791.7" font-size="9.0" fill="#000" text-anchor="middle" stroke="#000" stroke-width="0.12" >13</text>
<rect x="43.6" y="796.4" width="65.2" height="51.6" fill="#fff" stroke="#888" stroke-width="0.8"/>
<text x="47.5" y="805.6" font-size="7.0" fill="#000" text-anchor="start" stroke="#000" stroke-width="0.12" >MW p &lt; 0.05</text>
<rect x="47.8" y="810.2" width="10.8" height="11" fill="#ff0000" stroke="#000" stroke-width="0.8"/>
<rect x="47.8" y="821.9" width="10.8" height="10.5" fill="#bebebe" stroke="#000" stroke-width="0.8"/>
<rect x="47.8" y="833.4" width="10.8" height="10.5" fill="#0000ff" stroke="#000" stroke-width="0.8"/>
<text x="62.4" y="817.9" font-size="5.8" fill="#000" text-anchor="start" stroke="#000" stroke-width="0.12" >ALFQA &gt; ALUM</text>
<text x="62.4" y="829.7" font-size="5.8" fill="#000" text-anchor="start" stroke="#000" stroke-width="0.12" >p &gt; 0.05</text>
<text x="62.4" y="840.9" font-size="5.8" fill="#000" text-anchor="start" stroke="#000" stroke-width="0.12" >ALFQA &lt; ALUM</text>
<text x="152.5" y="561.0" font-size="22" fill="#000" text-anchor="start" stroke="#000" stroke-width="0.12" >f</text>
<line x1="207.5" y1="578.3" x2="207.5" y2="686.9" stroke="#000" stroke-width="1.2" />
<line x1="206.9" y1="686.9" x2="315.6" y2="686.9" stroke="#000" stroke-width="1.2" />
<line x1="203.5" y1="578.9" x2="207.5" y2="578.9" stroke="#000" stroke-width="1.2" />
<text x="200.7" y="582.5" font-size="10.2" fill="#000" text-anchor="end" stroke="#000" stroke-width="0.12" >1500</text>
<line x1="203.5" y1="615.0" x2="207.5" y2="615.0" stroke="#000" stroke-width="1.2" />
<text x="200.7" y="618.6" font-size="10.2" fill="#000" text-anchor="end" stroke="#000" stroke-width="0.12" >1000</text>
<line x1="203.5" y1="651.2" x2="207.5" y2="651.2" stroke="#000" stroke-width="1.2" />
<text x="200.7" y="654.8" font-size="10.2" fill="#000" text-anchor="end" stroke="#000" stroke-width="0.12" >500</text>
<line x1="203.5" y1="686.9" x2="207.5" y2="686.9" stroke="#000" stroke-width="1.2" />
<text x="200.7" y="690.5" font-size="10.2" fill="#000" text-anchor="end" stroke="#000" stroke-width="0.12" >0</text>
<line x1="238.5" y1="686.9" x2="238.5" y2="690.9" stroke="#000" stroke-width="1.2" />
<line x1="285.0" y1="686.9" x2="285.0" y2="690.9" stroke="#000" stroke-width="1.2" />
<text x="238.5" y="703.6" font-size="10.3" fill="#000" text-anchor="middle" stroke="#000" stroke-width="0.12" >Alum</text>
<text x="285.0" y="703.6" font-size="10.3" fill="#000" text-anchor="middle" stroke="#000" stroke-width="0.12" >ALFQA</text>
<text x="267.5" y="585.6" font-size="10.2" fill="#000" text-anchor="middle" stroke="#000" stroke-width="0.12" >p= 0.0000003</text>
<text transform="translate(161.2,632.8) rotate(-90)" font-size="10.2" fill="#000" text-anchor="middle" stroke="#000" stroke-width="0.12" >Plasma CCL2</text>
<text transform="translate(173.4,632.8) rotate(-90)" font-size="10.2" fill="#000" text-anchor="middle" stroke="#000" stroke-width="0.12" >(pg/ml, Week 12+24hours)</text>
<line x1="270.0" y1="645.3" x2="300.0" y2="645.3" stroke="#000" stroke-width="1.2" />
<circle cx="232.4" cy="654.5" r="3.15" fill="#0033ff" stroke="#000" stroke-width="1.15"/>
<circle cx="238.5" cy="657.1" r="3.15" fill="#0033ff" stroke="#000" stroke-width="1.15"/>
<circle cx="232.1" cy="661.8" r="3.15" fill="#0033ff" stroke="#000" stroke-width="1.15"/>
<circle cx="241.5" cy="660.2" r="3.15" fill="#0033ff" stroke="#000" stroke-width="1.15"/>
<circle cx="244.7" cy="666.2" r="3.15" fill="#0033ff" stroke="#000" stroke-width="1.15"/>
<circle cx="247.3" cy="667.6" r="3.15" fill="#0033ff" stroke="#000" stroke-width="1.15"/>
<circle cx="250.8" cy="669.0" r="3.15" fill="#0033ff" stroke="#000" stroke-width="1.15"/>
<circle cx="226.3" cy="670.6" r="3.15" fill="#0033ff" stroke="#000" stroke-width="1.15"/>
<circle cx="232.1" cy="671.5" r="3.15" fill="#0033ff" stroke="#000" stroke-width="1.15"/>
<circle cx="238.5" cy="671.5" r="3.15" fill="#0033ff" stroke="#000" stroke-width="1.15"/>
<circle cx="244.7" cy="672.5" r="3.15" fill="#0033ff" stroke="#000" stroke-width="1.15"/>
<circle cx="229.4" cy="675.0" r="3.15" fill="#0033ff" stroke="#000" stroke-width="1.15"/>
<circle cx="235.4" cy="673.2" r="3.15" fill="#0033ff" stroke="#000" stroke-width="1.15"/>
<circle cx="247.7" cy="675.0" r="3.15" fill="#0033ff" stroke="#000" stroke-width="1.15"/>
<circle cx="241.5" cy="677.2" r="3.15" fill="#0033ff" stroke="#000" stroke-width="1.15"/>
<circle cx="284.8" cy="596.3" r="3.15" fill="#ff3300" stroke="#000" stroke-width="1.15"/>
<circle cx="284.8" cy="606.3" r="3.15" fill="#ff3300" stroke="#000" stroke-width="1.15"/>
<circle cx="284.8" cy="615.0" r="3.15" fill="#ff3300" stroke="#000" stroke-width="1.15"/>
<circle cx="284.8" cy="634.3" r="3.15" fill="#ff3300" stroke="#000" stroke-width="1.15"/>
<circle cx="272.7" cy="643.6" r="3.15" fill="#ff3300" stroke="#000" stroke-width="1.15"/>
<circle cx="297.2" cy="642.7" r="3.15" fill="#ff3300" stroke="#000" stroke-width="1.15"/>
<circle cx="280.6" cy="649.2" r="3.15" fill="#ff3300" stroke="#000" stroke-width="1.15"/>
<circle cx="288.8" cy="646.6" r="3.15" fill="#ff3300" stroke="#000" stroke-width="1.15"/>
<circle cx="272.7" cy="651.5" r="3.15" fill="#ff3300" stroke="#000" stroke-width="1.15"/>
<circle cx="297.2" cy="651.5" r="3.15" fill="#ff3300" stroke="#000" stroke-width="1.15"/>
<circle cx="288.8" cy="654.5" r="3.15" fill="#ff3300" stroke="#000" stroke-width="1.15"/>
<circle cx="280.6" cy="660.1" r="3.15" fill="#ff3300" stroke="#000" stroke-width="1.15"/>
<text x="344.5" y="560.0" font-size="22" fill="#000" text-anchor="start" stroke="#000" stroke-width="0.12" >g</text>
<line x1="385.5" y1="577.1" x2="385.5" y2="686.2" stroke="#000" stroke-width="1.2" />
<line x1="384.9" y1="686.2" x2="494.0" y2="686.2" stroke="#000" stroke-width="1.2" />
<line x1="381.5" y1="577.6" x2="385.5" y2="577.6" stroke="#000" stroke-width="1.2" />
<text x="378.7" y="581.2" font-size="10.2" fill="#000" text-anchor="end" stroke="#000" stroke-width="0.12" >500</text>
<line x1="381.5" y1="599.4" x2="385.5" y2="599.4" stroke="#000" stroke-width="1.2" />
<text x="378.7" y="603.0" font-size="10.2" fill="#000" text-anchor="end" stroke="#000" stroke-width="0.12" >400</text>
<line x1="381.5" y1="621.1" x2="385.5" y2="621.1" stroke="#000" stroke-width="1.2" />
<text x="378.7" y="624.7" font-size="10.2" fill="#000" text-anchor="end" stroke="#000" stroke-width="0.12" >300</text>
<line x1="381.5" y1="642.8" x2="385.5" y2="642.8" stroke="#000" stroke-width="1.2" />
<text x="378.7" y="646.4" font-size="10.2" fill="#000" text-anchor="end" stroke="#000" stroke-width="0.12" >200</text>
<line x1="381.5" y1="664.5" x2="385.5" y2="664.5" stroke="#000" stroke-width="1.2" />
<text x="378.7" y="668.1" font-size="10.2" fill="#000" text-anchor="end" stroke="#000" stroke-width="0.12" >100</text>
<line x1="381.5" y1="686.2" x2="385.5" y2="686.2" stroke="#000" stroke-width="1.2" />
<text x="378.7" y="689.8" font-size="10.2" fill="#000" text-anchor="end" stroke="#000" stroke-width="0.12" >0</text>
<line x1="416.3" y1="686.2" x2="416.3" y2="690.2" stroke="#000" stroke-width="1.2" />
<line x1="462.7" y1="686.2" x2="462.7" y2="690.2" stroke="#000" stroke-width="1.2" />
<text x="416.3" y="702.9" font-size="10.3" fill="#000" text-anchor="middle" stroke="#000" stroke-width="0.12" >Alum</text>
<text x="462.7" y="702.9" font-size="10.3" fill="#000" text-anchor="middle" stroke="#000" stroke-width="0.12" >ALFQA</text>
<text x="443.5" y="584.3" font-size="10.2" fill="#000" text-anchor="middle" stroke="#000" stroke-width="0.12" >p= 0.00000008</text>
<text transform="translate(345.0,631.9) rotate(-90)" font-size="10.2" fill="#000" text-anchor="middle" stroke="#000" stroke-width="0.12" >Plasma IL-18</text>
<text transform="translate(356.8,631.9) rotate(-90)" font-size="10.2" fill="#000" text-anchor="middle" stroke="#000" stroke-width="0.12" >(pg/ml, Week 12+24hours)</text>
<line x1="401.0" y1="665.5" x2="428.0" y2="665.5" stroke="#000" stroke-width="1.2" />
<line x1="450.0" y1="627.5" x2="476.0" y2="627.5" stroke="#000" stroke-width="1.2" />
<circle cx="416.3" cy="643.4" r="3.15" fill="#0033ff" stroke="#000" stroke-width="1.15"/>
<circle cx="410.1" cy="658.0" r="3.15" fill="#0033ff" stroke="#000" stroke-width="1.15"/>
<circle cx="413.3" cy="659.7" r="3.15" fill="#0033ff" stroke="#000" stroke-width="1.15"/>
<circle cx="416.3" cy="661.5" r="3.15" fill="#0033ff" stroke="#000" stroke-width="1.15"/>
<circle cx="422.2" cy="661.8" r="3.15" fill="#0033ff" stroke="#000" stroke-width="1.15"/>
<circle cx="428.7" cy="663.4" r="3.15" fill="#0033ff" stroke="#000" stroke-width="1.15"/>
<circle cx="404.0" cy="664.4" r="3.15" fill="#0033ff" stroke="#000" stroke-width="1.15"/>
<circle cx="407.2" cy="664.1" r="3.15" fill="#0033ff" stroke="#000" stroke-width="1.15"/>
<circle cx="412.9" cy="669.0" r="3.15" fill="#0033ff" stroke="#000" stroke-width="1.15"/>
<circle cx="416.8" cy="668.5" r="3.15" fill="#0033ff" stroke="#000" stroke-width="1.15"/>
<circle cx="422.0" cy="669.0" r="3.15" fill="#0033ff" stroke="#000" stroke-width="1.15"/>
<circle cx="407.2" cy="670.8" r="3.15" fill="#0033ff" stroke="#000" stroke-width="1.15"/>
<circle cx="419.4" cy="672.0" r="3.15" fill="#0033ff" stroke="#000" stroke-width="1.15"/>
<circle cx="425.2" cy="671.1" r="3.15" fill="#0033ff" stroke="#000" stroke-width="1.15"/>
<circle cx="460.2" cy="600.3" r="3.15" fill="#ff3300" stroke="#000" stroke-width="1.15"/>
<circle cx="465.5" cy="606.5" r="3.15" fill="#ff3300" stroke="#000" stroke-width="1.15"/>
<circle cx="455.5" cy="616.4" r="3.15" fill="#ff3300" stroke="#000" stroke-width="1.15"/>
<circle cx="450.3" cy="622.9" r="3.15" fill="#ff3300" stroke="#000" stroke-width="1.15"/>
<circle cx="455.5" cy="626.1" r="3.15" fill="#ff3300" stroke="#000" stroke-width="1.15"/>
<circle cx="460.6" cy="627.3" r="3.15" fill="#ff3300" stroke="#000" stroke-width="1.15"/>
<circle cx="465.3" cy="629.6" r="3.15" fill="#ff3300" stroke="#000" stroke-width="1.15"/>
<circle cx="470.2" cy="624.7" r="3.15" fill="#ff3300" stroke="#000" stroke-width="1.15"/>
<circle cx="475.5" cy="623.8" r="3.15" fill="#ff3300" stroke="#000" stroke-width="1.15"/>
<circle cx="460.2" cy="636.1" r="3.15" fill="#ff3300" stroke="#000" stroke-width="1.15"/>
<circle cx="465.5" cy="636.6" r="3.15" fill="#ff3300" stroke="#000" stroke-width="1.15"/>
<circle cx="462.7" cy="653.2" r="3.15" fill="#ff3300" stroke="#000" stroke-width="1.15"/>
<text x="525.5" y="562.3" font-size="22" fill="#000" text-anchor="start" stroke="#000" stroke-width="0.12" >h</text>
<line x1="575.9" y1="578.9" x2="575.9" y2="686.6" stroke="#000" stroke-width="1.2" />
<line x1="575.3" y1="686.6" x2="684.0" y2="686.6" stroke="#000" stroke-width="1.2" />
<line x1="571.9" y1="579.4" x2="575.9" y2="579.4" stroke="#000" stroke-width="1.2" />
<text x="569.1" y="583.0" font-size="10.2" fill="#000" text-anchor="end" stroke="#000" stroke-width="0.12" >250</text>
<line x1="571.9" y1="601.0" x2="575.9" y2="601.0" stroke="#000" stroke-width="1.2" />
<text x="569.1" y="604.6" font-size="10.2" fill="#000" text-anchor="end" stroke="#000" stroke-width="0.12" >200</text>
<line x1="571.9" y1="622.4" x2="575.9" y2="622.4" stroke="#000" stroke-width="1.2" />
<text x="569.1" y="626.0" font-size="10.2" fill="#000" text-anchor="end" stroke="#000" stroke-width="0.12" >150</text>
<line x1="571.9" y1="643.9" x2="575.9" y2="643.9" stroke="#000" stroke-width="1.2" />
<text x="569.1" y="647.5" font-size="10.2" fill="#000" text-anchor="end" stroke="#000" stroke-width="0.12" >100</text>
<line x1="571.9" y1="665.3" x2="575.9" y2="665.3" stroke="#000" stroke-width="1.2" />
<text x="569.1" y="668.9" font-size="10.2" fill="#000" text-anchor="end" stroke="#000" stroke-width="0.12" >50</text>
<line x1="571.9" y1="686.6" x2="575.9" y2="686.6" stroke="#000" stroke-width="1.2" />
<text x="569.1" y="690.2" font-size="10.2" fill="#000" text-anchor="end" stroke="#000" stroke-width="0.12" >0</text>
<line x1="607.5" y1="686.6" x2="607.5" y2="690.6" stroke="#000" stroke-width="1.2" />
<line x1="653.4" y1="686.6" x2="653.4" y2="690.6" stroke="#000" stroke-width="1.2" />
<text x="607.5" y="703.3" font-size="10.3" fill="#000" text-anchor="middle" stroke="#000" stroke-width="0.12" >Alum</text>
<text x="653.4" y="703.3" font-size="10.3" fill="#000" text-anchor="middle" stroke="#000" stroke-width="0.12" >ALFQA</text>
<text x="627.0" y="578.4" font-size="10.2" fill="#000" text-anchor="middle" stroke="#000" stroke-width="0.12" >p= 0.005</text>
<text transform="translate(536.5,633.0) rotate(-90)" font-size="10.2" fill="#000" text-anchor="middle" stroke="#000" stroke-width="0.12" >Plasma IL-18</text>
<text transform="translate(548.2,633.0) rotate(-90)" font-size="10.2" fill="#000" text-anchor="middle" stroke="#000" stroke-width="0.12" >(pg/ml, Week 13)</text>
<line x1="591.7" y1="645.6" x2="623.2" y2="645.6" stroke="#000" stroke-width="1.2" />
<line x1="637.7" y1="616.2" x2="667.9" y2="616.2" stroke="#000" stroke-width="1.2" />
<circle cx="607.5" cy="588.6" r="3.15" fill="#0033ff" stroke="#000" stroke-width="1.15"/>
<circle cx="607.5" cy="627.5" r="3.15" fill="#0033ff" stroke="#000" stroke-width="1.15"/>
<circle cx="607.5" cy="634.1" r="3.15" fill="#0033ff" stroke="#000" stroke-width="1.15"/>
<circle cx="610.9" cy="641.2" r="3.15" fill="#0033ff" stroke="#000" stroke-width="1.15"/>
<circle cx="615.4" cy="640.6" r="3.15" fill="#0033ff" stroke="#000" stroke-width="1.15"/>
<circle cx="599.1" cy="644.6" r="3.15" fill="#0033ff" stroke="#000" stroke-width="1.15"/>
<circle cx="594.9" cy="648.2" r="3.15" fill="#0033ff" stroke="#000" stroke-width="1.15"/>
<circle cx="603.0" cy="647.2" r="3.15" fill="#0033ff" stroke="#000" stroke-width="1.15"/>
<circle cx="607.5" cy="646.4" r="3.15" fill="#0033ff" stroke="#000" stroke-width="1.15"/>
<circle cx="614.8" cy="647.7" r="3.15" fill="#0033ff" stroke="#000" stroke-width="1.15"/>
<circle cx="619.3" cy="648.2" r="3.15" fill="#0033ff" stroke="#000" stroke-width="1.15"/>
<circle cx="611.4" cy="649.8" r="3.15" fill="#0033ff" stroke="#000" stroke-width="1.15"/>
<circle cx="641.1" cy="591.8" r="3.15" fill="#ff3300" stroke="#000" stroke-width="1.15"/>
<circle cx="649.0" cy="590.4" r="3.15" fill="#ff3300" stroke="#000" stroke-width="1.15"/>
<circle cx="649.0" cy="597.8" r="3.15" fill="#ff3300" stroke="#000" stroke-width="1.15"/>
<circle cx="657.4" cy="597.8" r="3.15" fill="#ff3300" stroke="#000" stroke-width="1.15"/>
<circle cx="665.8" cy="595.7" r="3.15" fill="#ff3300" stroke="#000" stroke-width="1.15"/>
<circle cx="649.0" cy="615.7" r="3.15" fill="#ff3300" stroke="#000" stroke-width="1.15"/>
<circle cx="665.8" cy="617.0" r="3.15" fill="#ff3300" stroke="#000" stroke-width="1.15"/>
<circle cx="641.1" cy="622.2" r="3.15" fill="#ff3300" stroke="#000" stroke-width="1.15"/>
<circle cx="649.0" cy="627.2" r="3.15" fill="#ff3300" stroke="#000" stroke-width="1.15"/>
<circle cx="657.4" cy="627.2" r="3.15" fill="#ff3300" stroke="#000" stroke-width="1.15"/>
<circle cx="653.4" cy="635.9" r="3.15" fill="#ff3300" stroke="#000" stroke-width="1.15"/>
<circle cx="653.4" cy="649.6" r="3.15" fill="#ff3300" stroke="#000" stroke-width="1.15"/>
<text x="153.5" y="725.0" font-size="22" fill="#000" text-anchor="start" stroke="#000" stroke-width="0.12" >i</text>
<line x1="207.8" y1="740.2" x2="207.8" y2="849.0" stroke="#000" stroke-width="1.2" />
<line x1="207.2" y1="849.0" x2="315.5" y2="849.0" stroke="#000" stroke-width="1.2" />
<line x1="203.8" y1="740.7" x2="207.8" y2="740.7" stroke="#000" stroke-width="1.2" />
<text x="201.0" y="744.3" font-size="10.2" fill="#000" text-anchor="end" stroke="#000" stroke-width="0.12" >300</text>
<line x1="203.8" y1="776.9" x2="207.8" y2="776.9" stroke="#000" stroke-width="1.2" />
<text x="201.0" y="780.5" font-size="10.2" fill="#000" text-anchor="end" stroke="#000" stroke-width="0.12" >200</text>
<line x1="203.8" y1="813.0" x2="207.8" y2="813.0" stroke="#000" stroke-width="1.2" />
<text x="201.0" y="816.6" font-size="10.2" fill="#000" text-anchor="end" stroke="#000" stroke-width="0.12" >100</text>
<line x1="203.8" y1="849.0" x2="207.8" y2="849.0" stroke="#000" stroke-width="1.2" />
<text x="201.0" y="852.6" font-size="10.2" fill="#000" text-anchor="end" stroke="#000" stroke-width="0.12" >0</text>
<line x1="238.5" y1="849.0" x2="238.5" y2="853.0" stroke="#000" stroke-width="1.2" />
<line x1="284.5" y1="849.0" x2="284.5" y2="853.0" stroke="#000" stroke-width="1.2" />
<text x="238.5" y="865.7" font-size="10.3" fill="#000" text-anchor="middle" stroke="#000" stroke-width="0.12" >Alum</text>
<text x="284.5" y="865.7" font-size="10.3" fill="#000" text-anchor="middle" stroke="#000" stroke-width="0.12" >ALFQA</text>
<text x="259.5" y="747.6" font-size="10.2" fill="#000" text-anchor="middle" stroke="#000" stroke-width="0.12" >p= 0.028</text>
<text transform="translate(166.2,794.9) rotate(-90)" font-size="10.2" fill="#000" text-anchor="middle" stroke="#000" stroke-width="0.12" >Plasma CCL2</text>
<text transform="translate(178.0,794.9) rotate(-90)" font-size="10.2" fill="#000" text-anchor="middle" stroke="#000" stroke-width="0.12" >(pg/ml, Week 13)</text>
<line x1="222.8" y1="776.5" x2="254.3" y2="776.5" stroke="#000" stroke-width="1.2" />
<line x1="268.7" y1="799.3" x2="300.3" y2="799.3" stroke="#000" stroke-width="1.2" />
<circle cx="226.2" cy="757.8" r="3.15" fill="#0033ff" stroke="#000" stroke-width="1.15"/>
<circle cx="234.1" cy="761.7" r="3.15" fill="#0033ff" stroke="#000" stroke-width="1.15"/>
<circle cx="242.5" cy="760.4" r="3.15" fill="#0033ff" stroke="#000" stroke-width="1.15"/>
<circle cx="250.9" cy="760.4" r="3.15" fill="#0033ff" stroke="#000" stroke-width="1.15"/>
<circle cx="234.1" cy="770.9" r="3.15" fill="#0033ff" stroke="#000" stroke-width="1.15"/>
<circle cx="242.5" cy="774.1" r="3.15" fill="#0033ff" stroke="#000" stroke-width="1.15"/>
<circle cx="234.1" cy="778.8" r="3.15" fill="#0033ff" stroke="#000" stroke-width="1.15"/>
<circle cx="226.2" cy="792.0" r="3.15" fill="#0033ff" stroke="#000" stroke-width="1.15"/>
<circle cx="242.5" cy="791.2" r="3.15" fill="#0033ff" stroke="#000" stroke-width="1.15"/>
<circle cx="250.9" cy="789.9" r="3.15" fill="#0033ff" stroke="#000" stroke-width="1.15"/>
<circle cx="234.1" cy="799.3" r="3.15" fill="#0033ff" stroke="#000" stroke-width="1.15"/>
<circle cx="242.5" cy="798.0" r="3.15" fill="#0033ff" stroke="#000" stroke-width="1.15"/>
<circle cx="284.5" cy="748.9" r="3.15" fill="#ff3300" stroke="#000" stroke-width="1.15"/>
<circle cx="284.5" cy="767.8" r="3.15" fill="#ff3300" stroke="#000" stroke-width="1.15"/>
<circle cx="284.5" cy="775.7" r="3.15" fill="#ff3300" stroke="#000" stroke-width="1.15"/>
<circle cx="284.5" cy="783.6" r="3.15" fill="#ff3300" stroke="#000" stroke-width="1.15"/>
<circle cx="272.7" cy="798.0" r="3.15" fill="#ff3300" stroke="#000" stroke-width="1.15"/>
<circle cx="297.1" cy="795.9" r="3.15" fill="#ff3300" stroke="#000" stroke-width="1.15"/>
<circle cx="284.5" cy="800.6" r="3.15" fill="#ff3300" stroke="#000" stroke-width="1.15"/>
<circle cx="272.7" cy="805.9" r="3.15" fill="#ff3300" stroke="#000" stroke-width="1.15"/>
<circle cx="297.1" cy="803.8" r="3.15" fill="#ff3300" stroke="#000" stroke-width="1.15"/>
<circle cx="284.5" cy="809.0" r="3.15" fill="#ff3300" stroke="#000" stroke-width="1.15"/>
<circle cx="297.1" cy="812.5" r="3.15" fill="#ff3300" stroke="#000" stroke-width="1.15"/>
<circle cx="272.7" cy="818.2" r="3.15" fill="#ff3300" stroke="#000" stroke-width="1.15"/>
<text x="342.5" y="725.0" font-size="22" fill="#000" text-anchor="start" stroke="#000" stroke-width="0.12" >j</text>
<line x1="384.4" y1="740.2" x2="384.4" y2="849.0" stroke="#000" stroke-width="1.2" />
<line x1="383.8" y1="849.0" x2="493.4" y2="849.0" stroke="#000" stroke-width="1.2" />
<line x1="380.4" y1="740.7" x2="384.4" y2="740.7" stroke="#000" stroke-width="1.2" />
<text x="377.6" y="744.3" font-size="10.2" fill="#000" text-anchor="end" stroke="#000" stroke-width="0.12" >15</text>
<line x1="380.4" y1="776.8" x2="384.4" y2="776.8" stroke="#000" stroke-width="1.2" />
<text x="377.6" y="780.4" font-size="10.2" fill="#000" text-anchor="end" stroke="#000" stroke-width="0.12" >10</text>
<line x1="380.4" y1="812.9" x2="384.4" y2="812.9" stroke="#000" stroke-width="1.2" />
<text x="377.6" y="816.5" font-size="10.2" fill="#000" text-anchor="end" stroke="#000" stroke-width="0.12" >5</text>
<line x1="380.4" y1="849.0" x2="384.4" y2="849.0" stroke="#000" stroke-width="1.2" />
<text x="377.6" y="852.6" font-size="10.2" fill="#000" text-anchor="end" stroke="#000" stroke-width="0.12" >0</text>
<line x1="415.9" y1="849.0" x2="415.9" y2="853.0" stroke="#000" stroke-width="1.2" />
<line x1="462.7" y1="849.0" x2="462.7" y2="853.0" stroke="#000" stroke-width="1.2" />
<text x="415.9" y="865.7" font-size="10.3" fill="#000" text-anchor="middle" stroke="#000" stroke-width="0.12" >Alum</text>
<text x="462.7" y="865.7" font-size="10.3" fill="#000" text-anchor="middle" stroke="#000" stroke-width="0.12" >ALFQA</text>
<text x="443.5" y="747.1" font-size="10.2" fill="#000" text-anchor="middle" stroke="#000" stroke-width="0.12" >p= 0.000005</text>
<text transform="translate(349.3,794.9) rotate(-90)" font-size="10.2" fill="#000" text-anchor="middle" stroke="#000" stroke-width="0.12" >Plasma LTA</text>
<text transform="translate(361.1,794.9) rotate(-90)" font-size="10.2" fill="#000" text-anchor="middle" stroke="#000" stroke-width="0.12" >(pg/ml, Week 12+24hours)</text>
<line x1="402.0" y1="826.1" x2="428.0" y2="826.1" stroke="#000" stroke-width="1.2" />
<line x1="446.1" y1="800.9" x2="479.0" y2="800.9" stroke="#000" stroke-width="1.2" />
<circle cx="416.4" cy="793.3" r="3.15" fill="#0033ff" stroke="#000" stroke-width="1.15"/>
<circle cx="416.4" cy="812.5" r="3.15" fill="#0033ff" stroke="#000" stroke-width="1.15"/>
<circle cx="419.3" cy="819.5" r="3.15" fill="#0033ff" stroke="#000" stroke-width="1.15"/>
<circle cx="413.3" cy="821.4" r="3.15" fill="#0033ff" stroke="#000" stroke-width="1.15"/>
<circle cx="417.2" cy="821.4" r="3.15" fill="#0033ff" stroke="#000" stroke-width="1.15"/>
<circle cx="406.7" cy="825.6" r="3.15" fill="#0033ff" stroke="#000" stroke-width="1.15"/>
<circle cx="411.2" cy="826.6" r="3.15" fill="#0033ff" stroke="#000" stroke-width="1.15"/>
<circle cx="421.5" cy="826.6" r="3.15" fill="#0033ff" stroke="#000" stroke-width="1.15"/>
<circle cx="403.6" cy="831.4" r="3.15" fill="#0033ff" stroke="#000" stroke-width="1.15"/>
<circle cx="408.6" cy="831.4" r="3.15" fill="#0033ff" stroke="#000" stroke-width="1.15"/>
<circle cx="413.3" cy="831.4" r="3.15" fill="#0033ff" stroke="#000" stroke-width="1.15"/>
<circle cx="418.5" cy="831.4" r="3.15" fill="#0033ff" stroke="#000" stroke-width="1.15"/>
<circle cx="423.8" cy="831.4" r="3.15" fill="#0033ff" stroke="#000" stroke-width="1.15"/>
<circle cx="427.7" cy="829.3" r="3.15" fill="#0033ff" stroke="#000" stroke-width="1.15"/>
<circle cx="450.6" cy="763.8" r="3.15" fill="#ff3300" stroke="#000" stroke-width="1.15"/>
<circle cx="462.7" cy="774.4" r="3.15" fill="#ff3300" stroke="#000" stroke-width="1.15"/>
<circle cx="475.0" cy="770.4" r="3.15" fill="#ff3300" stroke="#000" stroke-width="1.15"/>
<circle cx="462.7" cy="793.3" r="3.15" fill="#ff3300" stroke="#000" stroke-width="1.15"/>
<circle cx="475.0" cy="792.5" r="3.15" fill="#ff3300" stroke="#000" stroke-width="1.15"/>
<circle cx="450.6" cy="802.0" r="3.15" fill="#ff3300" stroke="#000" stroke-width="1.15"/>
<circle cx="475.0" cy="799.3" r="3.15" fill="#ff3300" stroke="#000" stroke-width="1.15"/>
<circle cx="475.0" cy="806.4" r="3.15" fill="#ff3300" stroke="#000" stroke-width="1.15"/>
<circle cx="450.6" cy="811.7" r="3.15" fill="#ff3300" stroke="#000" stroke-width="1.15"/>
<circle cx="462.7" cy="816.1" r="3.15" fill="#ff3300" stroke="#000" stroke-width="1.15"/>
<circle cx="450.6" cy="819.0" r="3.15" fill="#ff3300" stroke="#000" stroke-width="1.15"/>
<circle cx="475.0" cy="818.8" r="3.15" fill="#ff3300" stroke="#000" stroke-width="1.15"/>
<text x="525.5" y="725.0" font-size="22" fill="#000" text-anchor="start" stroke="#000" stroke-width="0.12" >k</text>
<line x1="575.4" y1="740.2" x2="575.4" y2="849.2" stroke="#000" stroke-width="1.2" />
<line x1="574.8" y1="849.2" x2="684.2" y2="849.2" stroke="#000" stroke-width="1.2" />
<line x1="571.4" y1="740.7" x2="575.4" y2="740.7" stroke="#000" stroke-width="1.2" />
<text x="568.6" y="744.3" font-size="10.2" fill="#000" text-anchor="end" stroke="#000" stroke-width="0.12" >10</text>
<line x1="571.4" y1="762.4" x2="575.4" y2="762.4" stroke="#000" stroke-width="1.2" />
<text x="568.6" y="766.0" font-size="10.2" fill="#000" text-anchor="end" stroke="#000" stroke-width="0.12" >8</text>
<line x1="571.4" y1="784.1" x2="575.4" y2="784.1" stroke="#000" stroke-width="1.2" />
<text x="568.6" y="787.7" font-size="10.2" fill="#000" text-anchor="end" stroke="#000" stroke-width="0.12" >6</text>
<line x1="571.4" y1="805.8" x2="575.4" y2="805.8" stroke="#000" stroke-width="1.2" />
<text x="568.6" y="809.4" font-size="10.2" fill="#000" text-anchor="end" stroke="#000" stroke-width="0.12" >4</text>
<line x1="571.4" y1="827.5" x2="575.4" y2="827.5" stroke="#000" stroke-width="1.2" />
<text x="568.6" y="831.1" font-size="10.2" fill="#000" text-anchor="end" stroke="#000" stroke-width="0.12" >2</text>
<line x1="571.4" y1="849.2" x2="575.4" y2="849.2" stroke="#000" stroke-width="1.2" />
<text x="568.6" y="852.8" font-size="10.2" fill="#000" text-anchor="end" stroke="#000" stroke-width="0.12" >0</text>
<line x1="607.0" y1="849.2" x2="607.0" y2="853.2" stroke="#000" stroke-width="1.2" />
<line x1="653.4" y1="849.2" x2="653.4" y2="853.2" stroke="#000" stroke-width="1.2" />
<text x="607.0" y="865.9" font-size="10.3" fill="#000" text-anchor="middle" stroke="#000" stroke-width="0.12" >Alum</text>
<text x="653.4" y="865.9" font-size="10.3" fill="#000" text-anchor="middle" stroke="#000" stroke-width="0.12" >ALFQA</text>
<text x="628.5" y="744.4" font-size="10.2" fill="#000" text-anchor="middle" stroke="#000" stroke-width="0.12" >p= 0.0007</text>
<text transform="translate(540.3,795.0) rotate(-90)" font-size="10.2" fill="#000" text-anchor="middle" stroke="#000" stroke-width="0.12" >Plasma LTA</text>
<text transform="translate(552.1,795.0) rotate(-90)" font-size="10.2" fill="#000" text-anchor="middle" stroke="#000" stroke-width="0.12" >(pg/ml, Week 13)</text>
<line x1="591.0" y1="803.8" x2="622.0" y2="803.8" stroke="#000" stroke-width="1.2" />
<line x1="637.7" y1="788.0" x2="669.2" y2="788.0" stroke="#000" stroke-width="1.2" />
<circle cx="604.3" cy="790.6" r="3.15" fill="#0033ff" stroke="#000" stroke-width="1.15"/>
<circle cx="609.3" cy="788.0" r="3.15" fill="#0033ff" stroke="#000" stroke-width="1.15"/>
<circle cx="594.9" cy="799.3" r="3.15" fill="#0033ff" stroke="#000" stroke-width="1.15"/>
<circle cx="599.6" cy="801.2" r="3.15" fill="#0033ff" stroke="#000" stroke-width="1.15"/>
<circle cx="609.3" cy="801.2" r="3.15" fill="#0033ff" stroke="#000" stroke-width="1.15"/>
<circle cx="614.6" cy="800.4" r="3.15" fill="#0033ff" stroke="#000" stroke-width="1.15"/>
<circle cx="604.3" cy="805.1" r="3.15" fill="#0033ff" stroke="#000" stroke-width="1.15"/>
<circle cx="619.3" cy="805.1" r="3.15" fill="#0033ff" stroke="#000" stroke-width="1.15"/>
<circle cx="594.9" cy="808.2" r="3.15" fill="#0033ff" stroke="#000" stroke-width="1.15"/>
<circle cx="609.3" cy="810.9" r="3.15" fill="#0033ff" stroke="#000" stroke-width="1.15"/>
<circle cx="614.6" cy="810.9" r="3.15" fill="#0033ff" stroke="#000" stroke-width="1.15"/>
<circle cx="599.6" cy="817.4" r="3.15" fill="#0033ff" stroke="#000" stroke-width="1.15"/>
<circle cx="653.4" cy="749.4" r="3.15" fill="#ff3300" stroke="#000" stroke-width="1.15"/>
<circle cx="653.4" cy="759.4" r="3.15" fill="#ff3300" stroke="#000" stroke-width="1.15"/>
<circle cx="653.4" cy="769.1" r="3.15" fill="#ff3300" stroke="#000" stroke-width="1.15"/>
<circle cx="649.0" cy="775.7" r="3.15" fill="#ff3300" stroke="#000" stroke-width="1.15"/>
<circle cx="641.1" cy="780.1" r="3.15" fill="#ff3300" stroke="#000" stroke-width="1.15"/>
<circle cx="649.0" cy="785.9" r="3.15" fill="#ff3300" stroke="#000" stroke-width="1.15"/>
<circle cx="641.1" cy="789.3" r="3.15" fill="#ff3300" stroke="#000" stroke-width="1.15"/>
<circle cx="657.4" cy="789.3" r="3.15" fill="#ff3300" stroke="#000" stroke-width="1.15"/>
<circle cx="665.8" cy="788.0" r="3.15" fill="#ff3300" stroke="#000" stroke-width="1.15"/>
<circle cx="649.0" cy="797.7" r="3.15" fill="#ff3300" stroke="#000" stroke-width="1.15"/>
<circle cx="657.4" cy="801.9" r="3.15" fill="#ff3300" stroke="#000" stroke-width="1.15"/>
<circle cx="648.0" cy="804.3" r="3.15" fill="#ff3300" stroke="#000" stroke-width="1.15"/>
</svg>
</body></html>
